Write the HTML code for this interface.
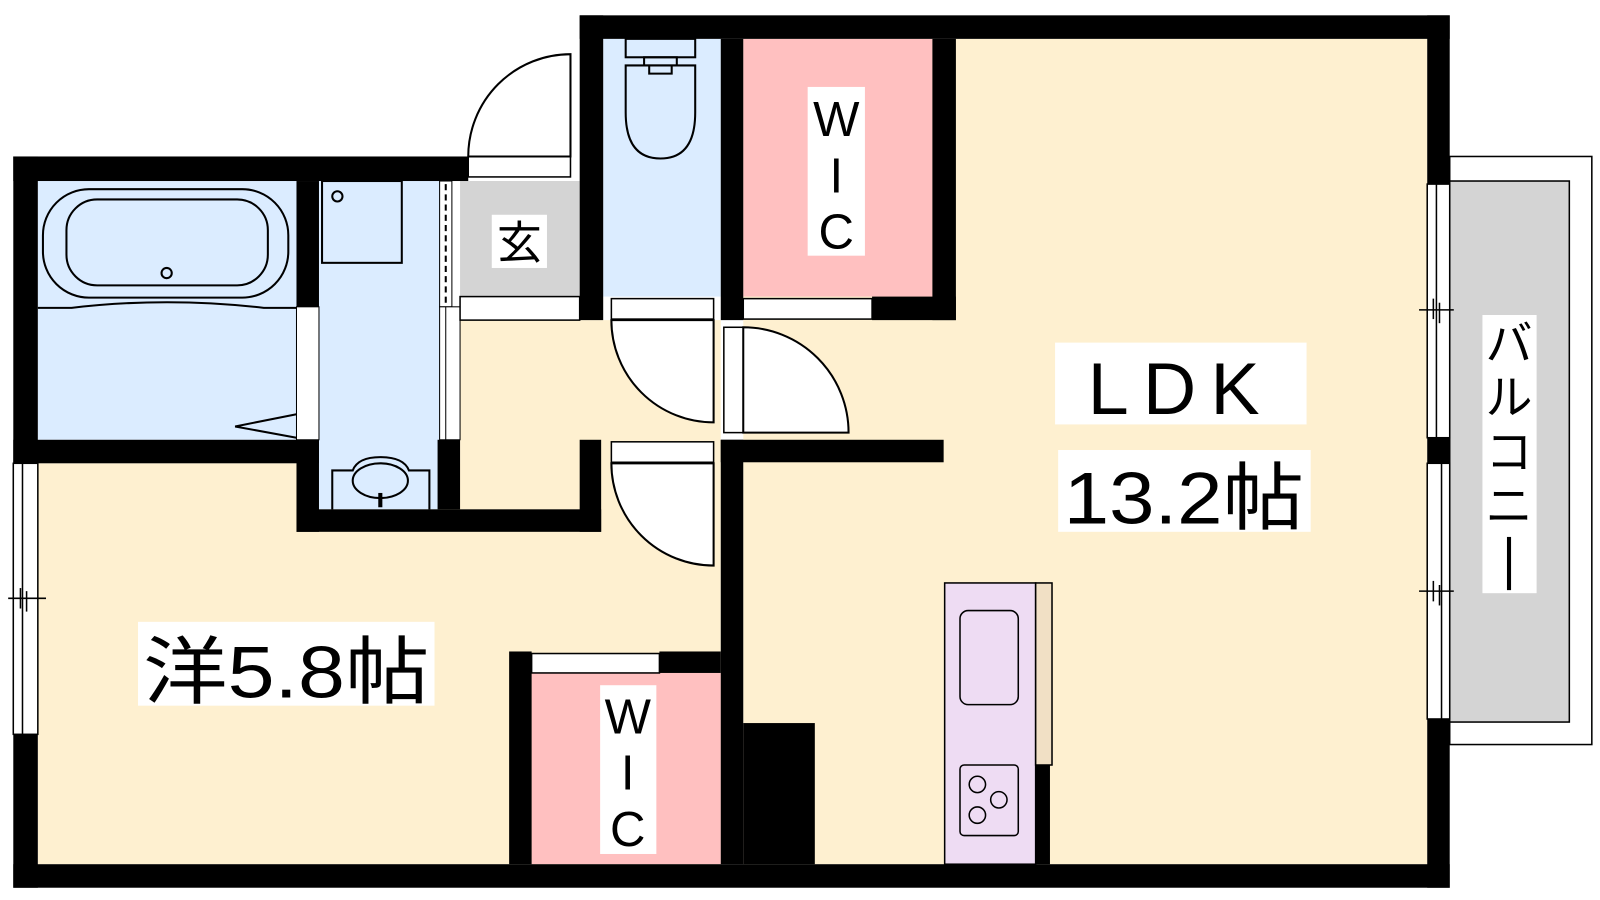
<!DOCTYPE html>
<html><head><meta charset="utf-8"><style>
html,body{margin:0;padding:0;background:#fff;}
svg{display:block;}
text{font-family:"Liberation Sans","Noto Sans CJK JP",sans-serif;}
</style></head><body>
<svg width="1600" height="900" viewBox="0 0 1565 880" preserveAspectRatio="none" xmlns="http://www.w3.org/2000/svg">
<rect width="1565" height="880" fill="#fff"/>
<rect x="1418" y="153" width="139" height="575" fill="#fff" stroke="#000" stroke-width="1.5"/>
<rect x="1418" y="177" width="117" height="529" fill="#d4d4d4" stroke="#000" stroke-width="1.5"/>
<rect x="727" y="38" width="669" height="807" fill="#fef0d0"/>
<rect x="37" y="453" width="668" height="392" fill="#fef0d0"/>
<rect x="450" y="313" width="255" height="185" fill="#fef0d0"/>
<rect x="37" y="177" width="253" height="253" fill="#dbecff"/>
<rect x="312" y="177" width="118" height="321" fill="#dbecff"/>
<rect x="450" y="177" width="117" height="113" fill="#d4d4d4"/>
<rect x="590" y="38" width="115" height="252" fill="#dbecff"/>
<rect x="727" y="38" width="185" height="252" fill="#ffc0c0"/>
<rect x="520" y="658" width="185" height="187" fill="#ffc0c0"/>
<g fill="none" stroke="#000" stroke-width="2">
<rect x="42" y="185" width="240" height="106" rx="45"/>
<rect x="65" y="195" width="197" height="84" rx="30"/>
<circle cx="163" cy="267" r="5"/>
<path d="M37 301 L70 301 Q163 290 258 301 L290 301"/>
<path d="M290 405 L230 417 L290 428"/>
<rect x="315" y="177" width="78" height="80"/>
<circle cx="330" cy="192" r="5"/>
<path d="M325 498 V460 H345 Q350 447 372 447 Q395 447 400 460 H420 V498"/>
<ellipse cx="372" cy="470" rx="27" ry="17"/>
<line x1="372" y1="482" x2="372" y2="496" stroke-width="4"/>
<rect x="612" y="38" width="68" height="18"/>
<rect x="630" y="56" width="32" height="8"/>
<path d="M612 64 H680 V110 Q680 155 646 155 Q612 155 612 110 Z"/>
<path d="M635 64 V72 H657 V64"/>
</g>
<rect x="430" y="177" width="12" height="123" fill="#fff" stroke="#000" stroke-width="1"/>
<line x1="436" y1="180" x2="436" y2="298" stroke="#000" stroke-width="2" stroke-dasharray="6,4"/>
<rect x="430" y="300" width="20" height="130" fill="#fff" stroke="#000" stroke-width="1"/>
<line x1="436" y1="300" x2="436" y2="430" stroke="#000" stroke-width="1"/>
<rect x="290" y="300" width="22" height="130" fill="#fff" stroke="#000" stroke-width="1"/>
<rect x="450" y="290" width="117" height="23" fill="#fff" stroke="#000" stroke-width="1.5"/>
<g fill="#000">
<rect x="13" y="153" width="445" height="24"/>
<rect x="13" y="153" width="24" height="300"/>
<rect x="13" y="430" width="299" height="23"/>
<rect x="290" y="430" width="22" height="90"/>
<rect x="290" y="177" width="22" height="123"/>
<rect x="290" y="498" width="298" height="22"/>
<rect x="428" y="430" width="22" height="68"/>
<rect x="567" y="430" width="21" height="90"/>
<rect x="567" y="15" width="851" height="23"/>
<rect x="567" y="15" width="23" height="298"/>
<rect x="705" y="38" width="22" height="275"/>
<rect x="705" y="430" width="22" height="415"/>
<rect x="705" y="430" width="218" height="22"/>
<rect x="912" y="38" width="23" height="275"/>
<rect x="853" y="290" width="82" height="23"/>
<rect x="13" y="718" width="24" height="150"/>
<rect x="13" y="845" width="1405" height="23"/>
<rect x="1396" y="15" width="22" height="165"/>
<rect x="1396" y="428" width="22" height="25"/>
<rect x="1396" y="703" width="22" height="165"/>
<rect x="498" y="637" width="22" height="208"/>
<rect x="645" y="637" width="60" height="21"/>
<rect x="727" y="707" width="70" height="138"/>
<rect x="1013" y="748" width="14" height="97"/>
</g>
<g fill="#fff" stroke="#000" stroke-width="1.5">
<rect x="598" y="292" width="100" height="20"/>
<rect x="727" y="292" width="126" height="20"/>
<rect x="598" y="432" width="100" height="20"/>
<rect x="520" y="639" width="125" height="19"/>
<rect x="458" y="153" width="100" height="20"/>
<rect x="708" y="320" width="19" height="103"/>
</g>
<g fill="#fff" stroke="#000" stroke-width="2">
<path d="M558 153 L458 153 A100 100 0 0 1 558 53 Z"/>
<path d="M698 313 L598 313 A100 100 0 0 0 698 413 Z"/>
<path d="M727 423 L727 320 A103 103 0 0 1 830 423 Z"/>
<path d="M698 453 L598 453 A100 100 0 0 0 698 553 Z"/>
</g>
<g fill="#fff" stroke="#000" stroke-width="1.5">
<rect x="1396" y="180" width="22" height="248"/>
<rect x="1396" y="453" width="22" height="250"/>
<rect x="13" y="453" width="24" height="265"/>
</g>
<g stroke="#000" stroke-width="1.5">
<line x1="1405" y1="180" x2="1405" y2="428"/><line x1="1410" y1="453" x2="1410" y2="703"/>
<line x1="22" y1="453" x2="22" y2="718"/>
<line x1="1388" y1="303" x2="1422" y2="303"/><line x1="1402" y1="292" x2="1402" y2="312"/><line x1="1408" y1="296" x2="1408" y2="316"/>
<line x1="1388" y1="578" x2="1422" y2="578"/><line x1="1402" y1="568" x2="1402" y2="588"/><line x1="1408" y1="572" x2="1408" y2="592"/>
<line x1="8" y1="585" x2="45" y2="585"/><line x1="20" y1="575" x2="20" y2="595"/><line x1="26" y1="578" x2="26" y2="598"/>
</g>
<rect x="924" y="570" width="89" height="275" fill="#eedcf3" stroke="#000" stroke-width="1.5"/>
<rect x="1013" y="570" width="16" height="178" fill="#f1e0c5" stroke="#000" stroke-width="1.5"/>
<g fill="none" stroke="#000" stroke-width="1.5">
<rect x="939" y="597" width="57" height="92" rx="8"/>
<rect x="939" y="748" width="57" height="69" rx="4"/>
<circle cx="956" cy="767" r="8"/><circle cx="977" cy="782" r="8"/><circle cx="956" cy="797" r="8"/>
</g>
<rect x="481" y="210" width="54" height="52" fill="#fff"/>
<text x="508" y="253" font-size="44" text-anchor="middle">玄</text>
<rect x="790" y="85" width="56" height="165" fill="#fff"/>
<text x="818" y="133" font-size="48" text-anchor="middle">W</text>
<text x="818" y="188" font-size="48" text-anchor="middle">I</text>
<text x="818" y="243" font-size="48" text-anchor="middle">C</text>
<rect x="587" y="670" width="55" height="165" fill="#fff"/>
<text x="614" y="717" font-size="48" text-anchor="middle">W</text>
<text x="614" y="772" font-size="48" text-anchor="middle">I</text>
<text x="614" y="827" font-size="48" text-anchor="middle">C</text>
<rect x="1032" y="335" width="246" height="80" fill="#fff"/>
<text x="1155" y="405" font-size="72" text-anchor="middle" letter-spacing="14">LDK</text>
<rect x="1035" y="440" width="247" height="80" fill="#fff"/>
<text x="1158" y="512" font-size="72" text-anchor="middle" textLength="235" lengthAdjust="spacingAndGlyphs">13.2帖</text>
<rect x="135" y="608" width="290" height="82" fill="#fff"/>
<text x="280" y="682" font-size="72" text-anchor="middle" textLength="280" lengthAdjust="spacingAndGlyphs">洋5.8帖</text>
<rect x="1450" y="308" width="53" height="272" fill="#fff"/>
<text x="1476" y="352" font-size="46" text-anchor="middle">バ</text>
<text x="1476" y="405" font-size="46" text-anchor="middle">ル</text>
<text x="1476" y="458" font-size="46" text-anchor="middle">コ</text>
<text x="1476" y="511" font-size="46" text-anchor="middle">ニ</text>
<rect x="1474" y="525" width="4" height="52" fill="#000"/>
</svg>
</body></html>
